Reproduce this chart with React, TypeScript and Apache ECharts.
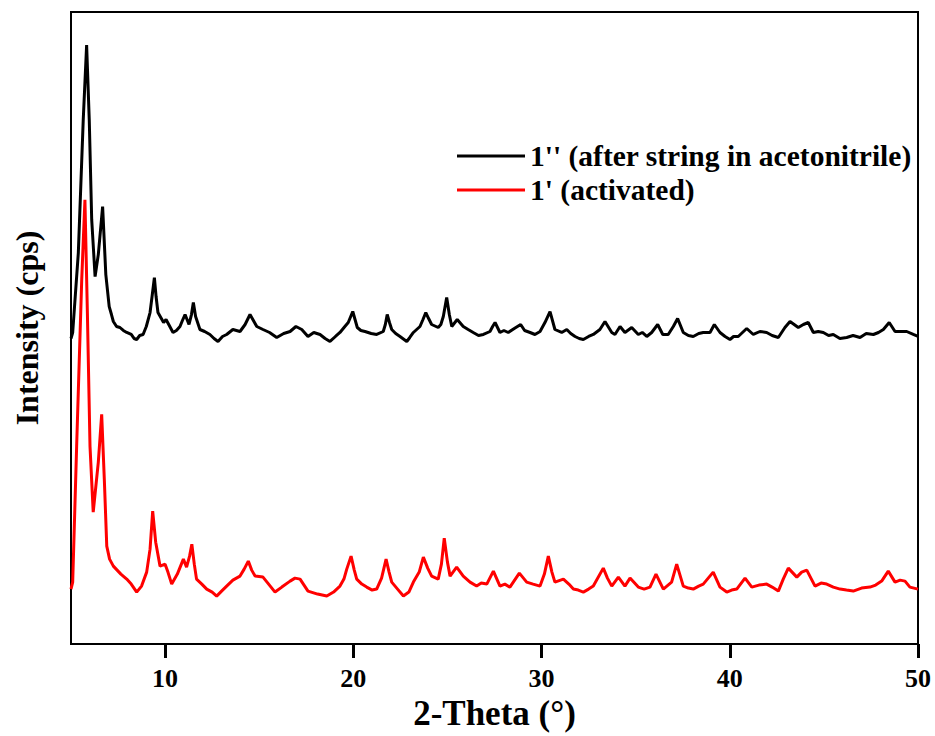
import React, { useEffect, useRef } from "react";
import * as echarts from "echarts";

// 2-Theta / intensity readings for 1'' (after string in acetonitrile)
const blackTheta = [5.0, 5.09, 5.39, 5.65, 5.83, 5.97, 6.10, 6.28, 6.45, 6.68, 6.85, 7.03, 7.15, 7.25, 7.42, 7.60, 7.78, 7.96, 8.20, 8.35, 8.49, 8.65, 8.83, 9.00, 9.20, 9.32, 9.43, 9.52, 9.62, 9.80, 9.92, 10.05, 10.25, 10.42, 10.60, 10.79, 10.92, 11.06, 11.27, 11.40, 11.50, 11.62, 11.85, 12.10, 12.38, 12.60, 12.81, 13.05, 13.27, 13.60, 13.98, 14.25, 14.51, 14.87, 15.20, 15.55, 15.93, 16.30, 16.64, 16.95, 17.26, 17.59, 17.90, 18.23, 18.50, 18.76, 19.05, 19.29, 19.55, 19.73, 19.97, 20.21, 20.40, 20.62, 20.95, 21.24, 21.59, 21.70, 21.80, 21.92, 22.04, 22.25, 22.48, 22.84, 23.00, 23.19, 23.54, 23.70, 23.85, 24.00, 24.16, 24.51, 24.65, 24.78, 24.96, 25.10, 25.23, 25.52, 25.84, 26.10, 26.37, 26.65, 26.91, 27.26, 27.40, 27.53, 27.79, 28.00, 28.23, 28.55, 28.89, 29.10, 29.39, 29.65, 29.92, 30.18, 30.45, 30.71, 31.07, 31.34, 31.55, 31.78, 32.00, 32.22, 32.50, 32.75, 33.10, 33.37, 33.73, 33.90, 34.17, 34.43, 34.79, 35.14, 35.35, 35.59, 35.85, 36.17, 36.44, 36.73, 37.00, 37.23, 37.53, 37.80, 38.06, 38.35, 38.59, 38.95, 39.18, 39.48, 39.75, 40.01, 40.20, 40.45, 40.90, 41.25, 41.60, 41.96, 42.25, 42.58, 42.93, 43.20, 43.64, 43.91, 44.17, 44.44, 44.70, 44.97, 45.25, 45.50, 45.85, 46.21, 46.55, 46.92, 47.25, 47.63, 47.90, 48.16, 48.47, 48.78, 49.13, 49.40, 49.75, 50.0];
const blackIntensity = [306, 312, 392, 525, 600, 525, 425, 368, 390, 438, 370, 338, 330, 323, 318, 317, 314, 312, 310, 306, 305, 309, 310, 318, 332, 350, 367, 348, 332, 326, 322, 325, 318, 312, 314, 318, 324, 330, 320, 330, 342, 328, 315, 313, 310, 306, 303, 308, 310, 315, 313, 320, 330, 318, 315, 312, 307, 311, 313, 318, 315, 308, 312, 310, 306, 303, 308, 312, 318, 322, 333, 317, 314, 313, 311, 310, 313, 320, 330, 322, 315, 311, 308, 303, 307, 312, 318, 325, 332, 326, 320, 317, 320, 328, 347, 330, 318, 325, 318, 315, 312, 309, 310, 313, 318, 322, 312, 314, 312, 316, 320, 314, 312, 310, 313, 322, 333, 315, 312, 315, 311, 308, 306, 305, 308, 310, 315, 323, 312, 310, 318, 312, 317, 310, 312, 308, 312, 320, 310, 310, 318, 326, 312, 309, 308, 311, 312, 312, 320, 312, 308, 305, 308, 308, 316, 310, 313, 312, 309, 307, 317, 323, 317, 320, 322, 312, 313, 312, 309, 310, 306, 307, 309, 307, 311, 310, 312, 315, 322, 313, 313, 313, 310, 308];

// 2-Theta / intensity readings for 1' (activated)
const redTheta = [5.0, 5.09, 5.30, 5.57, 5.74, 5.87, 6.01, 6.18, 6.45, 6.63, 6.77, 6.90, 7.05, 7.25, 7.45, 7.65, 7.96, 8.20, 8.49, 8.75, 9.02, 9.20, 9.34, 9.50, 9.73, 10.00, 10.15, 10.35, 10.65, 10.97, 11.14, 11.30, 11.42, 11.55, 11.67, 11.95, 12.21, 12.50, 12.74, 13.00, 13.27, 13.60, 13.98, 14.20, 14.42, 14.60, 14.78, 15.20, 15.50, 15.84, 16.20, 16.64, 16.90, 17.17, 17.59, 18.10, 18.59, 18.95, 19.29, 19.50, 19.65, 19.88, 20.05, 20.18, 20.45, 20.71, 21.00, 21.24, 21.50, 21.74, 21.90, 22.04, 22.35, 22.66, 22.95, 23.19, 23.50, 23.72, 23.95, 24.16, 24.51, 24.68, 24.83, 25.00, 25.14, 25.49, 25.84, 26.20, 26.55, 26.80, 27.09, 27.44, 27.79, 28.05, 28.32, 28.82, 29.21, 29.55, 29.92, 30.15, 30.36, 30.55, 30.71, 31.16, 31.45, 31.69, 31.95, 32.22, 32.50, 32.75, 33.28, 33.50, 33.73, 34.08, 34.43, 34.70, 35.14, 35.45, 35.76, 36.08, 36.47, 36.91, 37.18, 37.53, 37.80, 38.06, 38.35, 38.59, 39.12, 39.48, 39.84, 40.10, 40.37, 40.81, 41.17, 41.55, 41.96, 42.25, 42.58, 42.84, 43.11, 43.56, 43.82, 44.09, 44.53, 44.85, 45.15, 45.50, 45.86, 46.20, 46.56, 47.00, 47.45, 47.75, 48.07, 48.42, 48.78, 49.05, 49.31, 49.57, 50.0];
const redIntensity = [55, 62, 198, 365, 445, 332, 198, 132, 182, 230, 165, 98, 85, 78, 74, 70, 65, 60, 52, 58, 72, 95, 133, 102, 78, 80, 72, 60, 70, 85, 77, 88, 100, 80, 65, 60, 55, 52, 48, 53, 58, 64, 68, 75, 83, 74, 68, 67, 60, 52, 57, 63, 66, 65, 53, 50, 48, 52, 58, 65, 75, 88, 74, 65, 60, 57, 54, 55, 66, 85, 72, 62, 55, 48, 52, 62, 72, 87, 76, 68, 65, 80, 106, 82, 68, 77, 68, 62, 58, 61, 60, 73, 58, 60, 57, 71, 62, 60, 58, 70, 88, 72, 62, 65, 60, 55, 54, 52, 55, 58, 76, 66, 58, 67, 58, 66, 57, 55, 57, 70, 55, 62, 80, 58, 56, 55, 58, 60, 72, 57, 52, 54, 55, 66, 57, 59, 60, 57, 53, 65, 76, 67, 72, 74, 58, 61, 60, 57, 55, 54, 53, 56, 57, 59, 63, 73, 62, 64, 63, 57, 55];

const seriesNames = ["1'' (after string in acetonitrile)", "1' (activated)"];

const FONT = "'Liberation Serif', 'Times New Roman', serif";

export default function App() {
  const ref = useRef<HTMLDivElement>(null);
  useEffect(() => {
    if (!ref.current) return;
    const chart = echarts.init(ref.current, undefined, { renderer: "svg" });
    const blackData = blackTheta.map((t, i) => [t, blackIntensity[i]]);
    const redData = redTheta.map((t, i) => [t, redIntensity[i]]);
    chart.setOption({
      animation: false,
      grid: {
        left: 71,
        right: 17,
        top: 12,
        bottom: 91,
        show: true,
        borderColor: "#000",
        borderWidth: 2,
      },
      legend: {
        orient: "vertical",
        left: 452,
        top: 136,
        itemWidth: 68,
        itemHeight: 3,
        itemGap: 4,
        icon: "rect",
        data: seriesNames,
        textStyle: {
          fontFamily: FONT,
          fontWeight: "bold",
          fontSize: 29.5,
          color: "#000",
        },
      },
      xAxis: {
        type: "value",
        min: 5,
        max: 50,
        splitNumber: 5,
        name: "2-Theta (°)",
        nameLocation: "middle",
        nameGap: 52,
        nameTextStyle: {
          fontFamily: FONT,
          fontWeight: "bold",
          fontSize: 35,
          color: "#000",
        },
        axisLine: { show: true, lineStyle: { color: "#000", width: 2 } },
        axisTick: {
          show: true,
          inside: false,
          length: 14,
          lineStyle: { color: "#000", width: 3 },
        },
        axisLabel: {
          margin: 21,
          showMinLabel: false,
          fontFamily: FONT,
          fontWeight: "bold",
          fontSize: 26,
          color: "#000",
        },
        splitLine: { show: false },
      },
      yAxis: {
        type: "value",
        min: 0,
        max: 633,
        name: "Intensity (cps)",
        nameLocation: "middle",
        nameGap: 28,
        nameTextStyle: {
          fontFamily: FONT,
          fontWeight: "bold",
          fontSize: 32,
          color: "#000",
        },
        axisLine: { show: true, lineStyle: { color: "#000", width: 2 } },
        axisTick: { show: false },
        axisLabel: { show: false },
        splitLine: { show: false },
      },
      series: [
        {
          name: seriesNames[0],
          type: "line",
          data: blackData,
          showSymbol: false,
          symbol: "none",
          lineStyle: { color: "#000", width: 3 },
          itemStyle: { color: "#000" },
        },
        {
          name: seriesNames[1],
          type: "line",
          data: redData,
          showSymbol: false,
          symbol: "none",
          lineStyle: { color: "#ff0000", width: 3 },
          itemStyle: { color: "#ff0000" },
        },
      ],
    });
    return () => chart.dispose();
  }, []);
  return (
    <div
      ref={ref}
      style={{ position: "fixed", left: 0, top: 0, width: 935, height: 736, background: "#fff" }}
    />
  );
}
